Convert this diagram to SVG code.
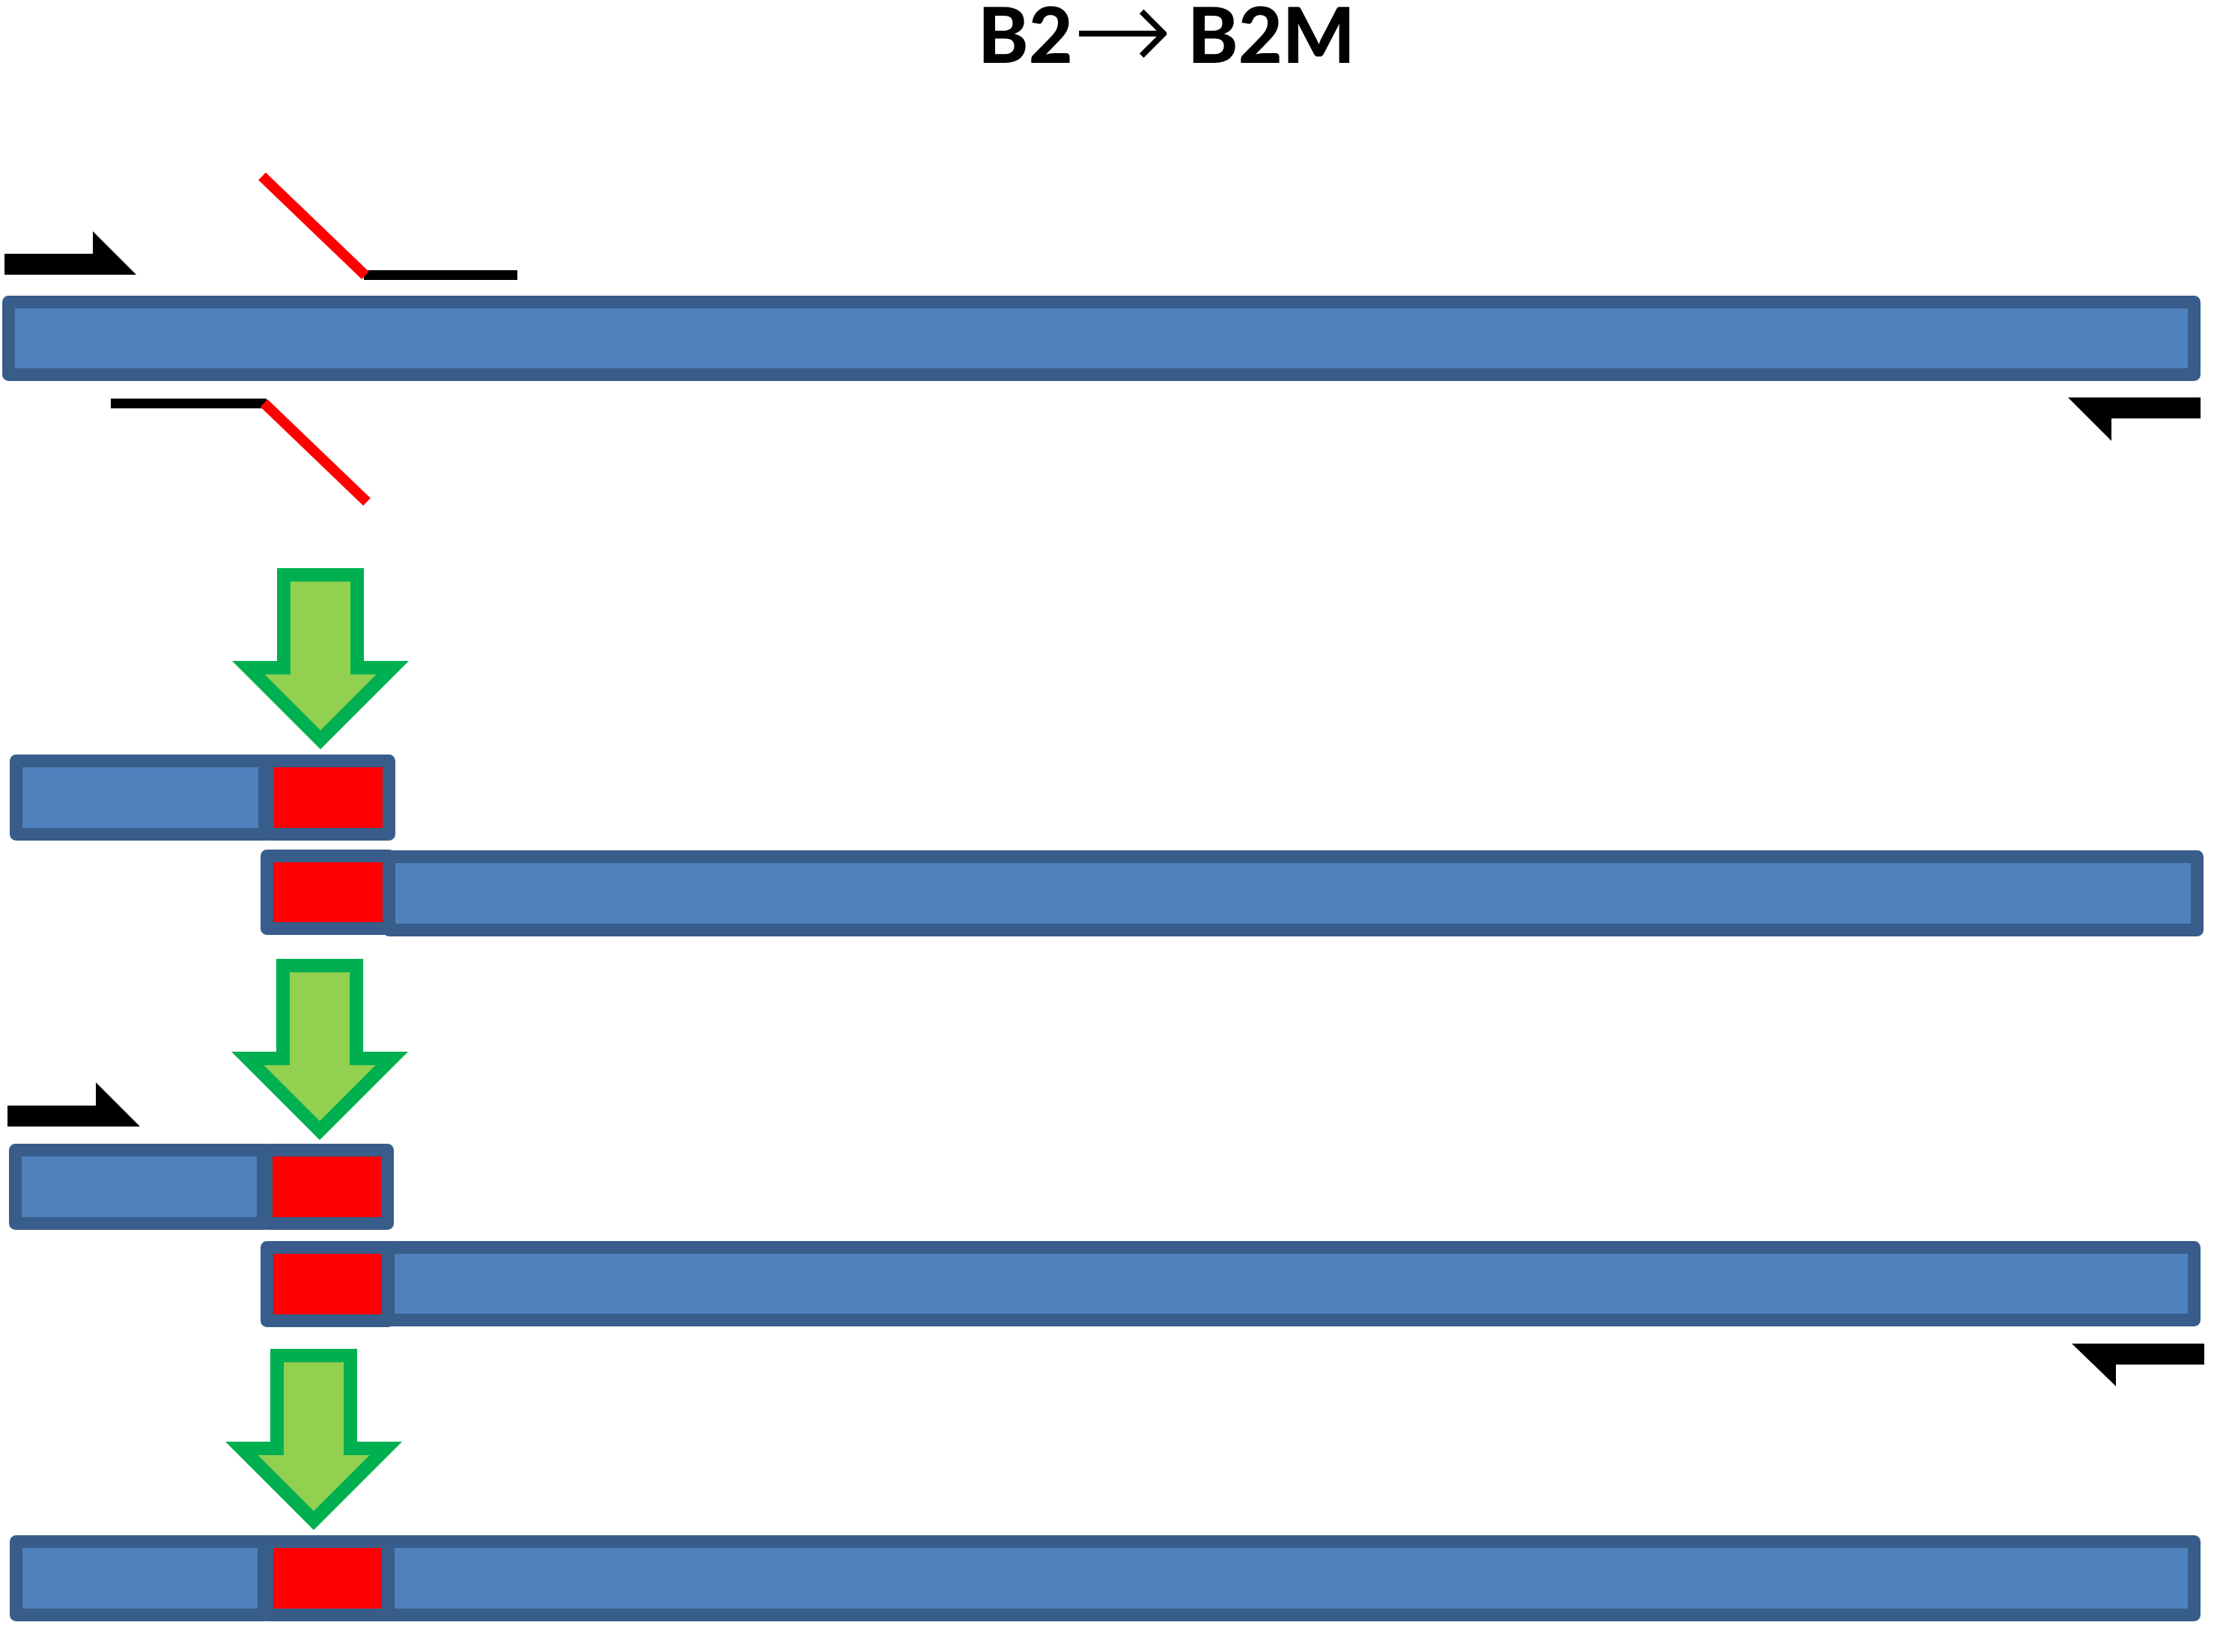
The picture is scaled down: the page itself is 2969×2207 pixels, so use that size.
<svg xmlns="http://www.w3.org/2000/svg" xmlns:xlink="http://www.w3.org/1999/xlink" width="2969" height="2207" viewBox="0 0 2969 2207">
<style>
.bar{fill:#4F81BD;stroke:#385D8A;stroke-width:17;stroke-linejoin:round}
.mut{fill:#FF0000;stroke:#385D8A;stroke-width:17;stroke-linejoin:round}
.primer{fill:#000000;stroke:none}
.oligo-black{stroke:#000000;stroke-width:13;fill:none}
.oligo-red{stroke:#FF0000;stroke-width:14;fill:none}
.step{fill:#92D050;stroke:#00B050;stroke-width:18;stroke-linejoin:miter;stroke-miterlimit:10}
.title{font-family:Lato,"Open Sans","Liberation Sans",sans-serif;font-weight:900;font-size:102px;fill:#000000}
.title-arrow{font-family:"DejaVu Sans","Liberation Sans",sans-serif;font-weight:200;font-size:160px}
</style>
<defs>
<path id="downArrow" class="step" d="M370,1811 H468 V1935 H515.3 L419,2031.3 L322.7,1935 H370 Z"/>
</defs>
<rect width="2969" height="2207" fill="#FFFFFF"/>
<g id="title">
<text class="title" y="84"><tspan x="1306">B2</tspan><tspan class="title-arrow" x="1432" y="95">→</tspan><tspan x="1586" y="84">B2M</tspan></text>
</g>
<g id="template">
<rect class="bar" x="11.5" y="403.5" width="2919" height="97"/>
</g>
<g id="primer-forward-1"><polygon class="primer" points="6,339 124,339 124,309 182,367 6,367"/></g>
<g id="primer-reverse-1"><polygon class="primer" points="2762,531 2939,531 2939,559 2820,559 2820,589"/></g>
<g id="mutagenic-oligo-top">
<line class="oligo-black" x1="486" y1="367.5" x2="691" y2="367.5"/>
<line class="oligo-red" x1="350" y1="235.5" x2="488" y2="368"/>
</g>
<g id="mutagenic-oligo-bottom">
<line class="oligo-black" x1="148" y1="539" x2="356" y2="539"/>
<line class="oligo-red" x1="352.5" y1="538.5" x2="490" y2="670.5"/>
</g>
<g id="pcr1-left-product">
<rect class="bar" x="21.5" y="1016.5" width="332" height="98"/>
<rect class="mut" x="357.5" y="1016.5" width="162" height="98"/>
</g>
<g id="pcr1-right-product">
<rect class="bar" x="519.5" y="1144.5" width="2415" height="98"/>
<rect class="mut" x="356.5" y="1143.5" width="163" height="97"/>
</g>
<g id="primer-forward-2"><polygon class="primer" points="10,1477 128,1477 128,1446 187,1505 10,1505"/></g>
<g id="overlap-left">
<rect class="bar" x="20.5" y="1536.5" width="331" height="98"/>
<rect class="mut" x="355.5" y="1536.5" width="162" height="98"/>
</g>
<g id="overlap-right">
<rect class="bar" x="518.5" y="1666.5" width="2412" height="97"/>
<rect class="mut" x="356.5" y="1666.5" width="162" height="98"/>
</g>
<g id="primer-reverse-2"><polygon class="primer" points="2767,1795 2944,1795 2944,1823 2826,1823 2826,1852"/></g>
<g id="final-product">
<rect class="bar" x="21.5" y="2059.5" width="331" height="98"/>
<rect class="bar" x="518.5" y="2059.5" width="2412" height="98"/>
<rect class="mut" x="356.5" y="2059.5" width="162" height="98"/>
</g>
<g id="connectors">
<use xlink:href="#downArrow" transform="translate(9,-1043)"/>
<use xlink:href="#downArrow" transform="translate(8,-521)"/>
<use xlink:href="#downArrow"/>
</g>
</svg>
